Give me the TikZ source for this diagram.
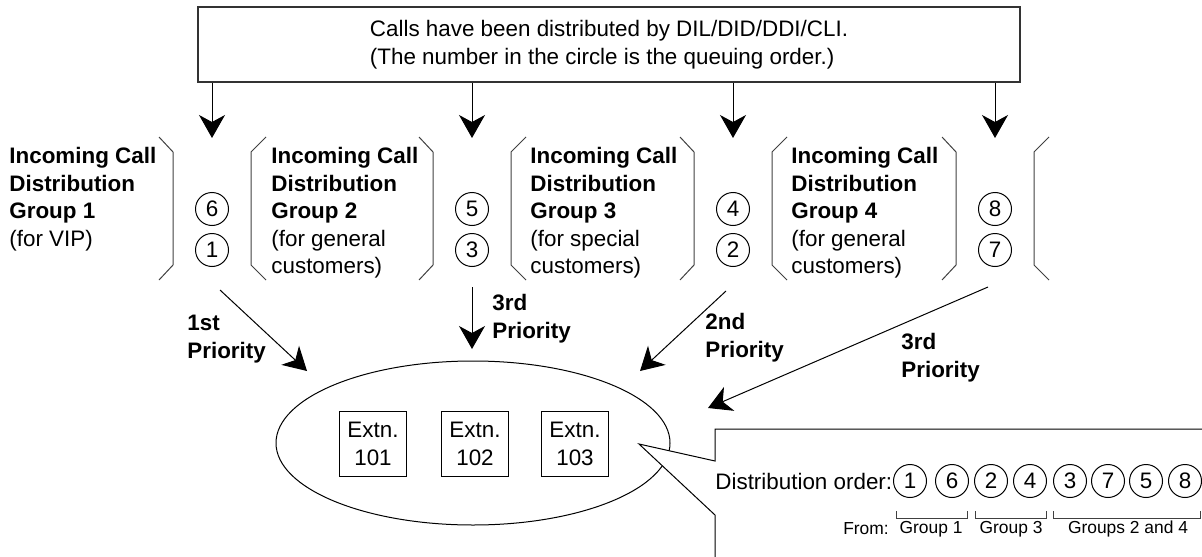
\documentclass[tikz,border=0pt]{standalone}
\usepackage{fontspec}
\setmainfont{Liberation Sans}
\usetikzlibrary{arrows.meta,shapes.geometric}
\newcommand{\mainfont}{\fontsize{11.2pt}{13.75pt}\selectfont}
\tikzstyle{grp}=[anchor=north west,align=left,inner sep=0pt,font=\mainfont]
\tikzstyle{prio}=[anchor=north west,align=left,inner sep=0pt,font=\mainfont\bfseries]
\tikzstyle{qnum}=[circle,draw,line width=0.5pt,minimum size=16.5pt,inner sep=0pt,font=\mainfont]
\tikzstyle{extn}=[draw,line width=0.5pt,minimum width=33.5pt,minimum height=32.5pt,align=center,inner sep=0pt,font=\mainfont]
\tikzstyle{calls}=[line width=0.5pt,-{Stealth[length=11.5pt,width=13pt,inset=3.5pt]}]
\tikzstyle{brk}=[line width=0.5pt,black!75]

\begin{document}
\begin{tikzpicture}[x=0.5pt,y=-0.5pt]
  \useasboundingbox (0,0) rectangle (1202,556);

  \node[draw,black!80,line width=0.8pt,minimum width=411pt,minimum height=37.5pt,
        text=black,align=left,font=\mainfont] (top) at (609,44.5)
        {Calls have been distributed by DIL/DID/DDI/CLI.\\(The number in the circle is the queuing order.)};

  % queues
  \foreach \c/\x/\up/\dn in {1/212/6/1, 2/472/5/3, 3/733/4/2, 4/995/8/7} {
    \node[qnum] (u\c) at (\x,209) {\up};
    \node[qnum] (d\c) at (\x,250) {\dn};
    \coordinate (in\c) at (\x,138);
    \draw[calls] (top.south -| in\c) -- (in\c);
    \draw[brk] (\x-53,137) -- (\x-39,152) -- (\x-39,265) -- (\x-53,280);
    \draw[brk] (\x+54,137) -- (\x+39,152) -- (\x+39,265) -- (\x+54,280);
  }

  \node[grp] (g1) at (9,147)   {\textbf{Incoming Call}\\\textbf{Distribution}\\\textbf{Group 1}\\(for VIP)};
  \node[grp] (g2) at (271,147) {\textbf{Incoming Call}\\\textbf{Distribution}\\\textbf{Group 2}\\(for general\\customers)};
  \node[grp] (g3) at (530,147) {\textbf{Incoming Call}\\\textbf{Distribution}\\\textbf{Group 3}\\(for special\\customers)};
  \node[grp] (g4) at (791,147) {\textbf{Incoming Call}\\\textbf{Distribution}\\\textbf{Group 4}\\(for general\\customers)};

  % extensions
  \node[draw,ellipse,line width=0.5pt,minimum width=197pt,minimum height=82pt] (ext) at (473,443) {};
  \node[extn] (e1) at (373,444) {Extn.\\101};
  \node[extn] (e2) at (475,444) {Extn.\\102};
  \node[extn] (e3) at (575,444) {Extn.\\103};

  \coordinate (f1) at (220,290);  \coordinate (t1) at (307,371);
  \coordinate (f2) at (472,287);  \coordinate (t2) at (472,349);
  \coordinate (f3) at (726,291);  \coordinate (t3) at (640,371);
  \coordinate (f4) at (988,287);  \coordinate (t4) at (708,408);
  \foreach \i in {1,...,4}
    \draw[calls] (f\i) -- (t\i);

  \node[prio] (p1) at (187,315) {1st\\Priority};
  \node[prio] (p2) at (492,294) {3rd\\Priority};
  \node[prio] (p3) at (705,313) {2nd\\Priority};
  \node[prio] (p4) at (901,333) {3rd\\Priority};

  % callout
  \fill[white] (1210,429) -- (715,429) -- (715,461) -- (639,444) -- (715,515) -- (715,560) -- (1210,560) -- cycle;
  \draw[line width=0.5pt] (1210,429) -- (715,429) -- (715,461) -- (639,444) -- (715,515) -- (715,560);

  \node[anchor=west,inner sep=0pt,font=\mainfont] (dord) at (715,481) {Distribution order:};
  \foreach \n/\x/\v in {1/910/1, 2/952/6, 3/991/2, 4/1030/4, 5/1070/3, 6/1108/7, 7/1146/5, 8/1185/8}
    \node[qnum] (o\n) at (\x,481) {\v};

  \draw[brk] (896,511) -- (896,518) -- (967,518) -- (967,511);
  \draw[brk] (975,511) -- (975,518) -- (1046,518) -- (1046,511);
  \draw[brk] (1053,511) -- (1053,518) -- (1200,518) -- (1200,511);

  \node[font=\fontsize{8.7pt}{10pt}\selectfont,inner sep=0pt] (from) at (866,529) {From:};
  \node[font=\fontsize{8.7pt}{10pt}\selectfont,inner sep=0pt] (s1) at (931,529) {Group 1};
  \node[font=\fontsize{8.7pt}{10pt}\selectfont,inner sep=0pt] (s3) at (1011,529) {Group 3};
  \node[font=\fontsize{8.7pt}{10pt}\selectfont,inner sep=0pt] (s24) at (1128,529) {Groups 2 and 4};
\end{tikzpicture}
\end{document}
